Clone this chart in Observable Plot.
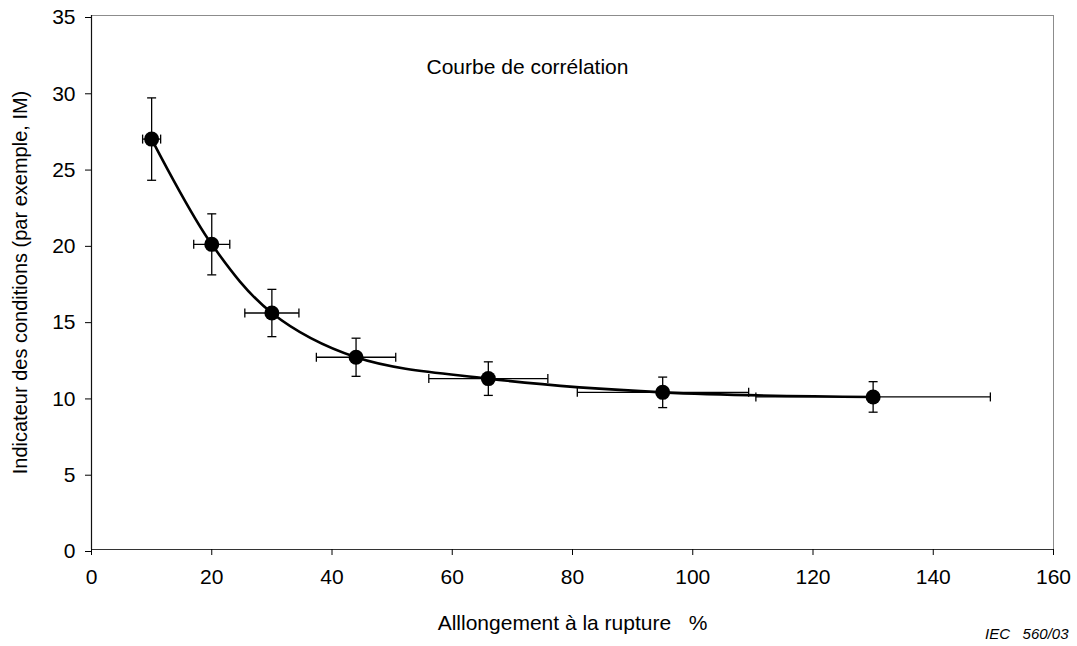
<!DOCTYPE html>
<html>
<head>
<meta charset="utf-8">
<script src="https://cdn.jsdelivr.net/npm/d3@7"></script>
<script src="https://cdn.jsdelivr.net/npm/@observablehq/plot@0.6"></script>
<style>
  html, body { margin: 0; padding: 0; background: white; }
</style>
</head>
<body>
<div id="chart"></div>
<script>
// Data
const elongation = [10, 20, 30, 44, 66, 95, 130];          // Allongement à la rupture (%)
const indicator  = [26.9, 20.0, 15.5, 12.6, 11.2, 10.3, 10.0]; // Indicateur (IM)
const elongLow   = [8.5, 17.0, 25.5, 37.4, 56.1, 80.8, 110.5];
const elongHigh  = [11.5, 23.0, 34.5, 50.6, 75.9, 109.3, 149.5];
const indLow     = [24.2, 18.0, 13.95, 11.35, 10.1, 9.3, 9.0];
const indHigh    = [29.6, 22.0, 17.05, 13.85, 12.3, 11.3, 11.0];
const xTicks = [0, 20, 40, 60, 80, 100, 120, 140, 160];
const yTicks = [0, 5, 10, 15, 20, 25, 30, 35];

const xLabel = "Alllongement à la rupture\u00a0\u00a0\u00a0%";
const yLabel = "Indicateur des conditions (par exemple, IM)";
const annotation = "Courbe de corrélation";
const reference = "IEC\u00a0\u00a0\u00a0560/03";

const points = elongation.map((x, i) => ({
  x, y: indicator[i],
  xl: elongLow[i], xh: elongHigh[i],
  yl: indLow[i], yh: indHigh[i]
}));

const hCap = { draw(ctx) { ctx.moveTo(-4.5, 0); ctx.lineTo(4.5, 0); } };
const vCap = { draw(ctx) { ctx.moveTo(0, -4.5); ctx.lineTo(0, 4.5); } };

const chart = Plot.plot({
  width: 1077,
  height: 646,
  marginLeft: 91,
  marginRight: 24,
  marginTop: 15,
  marginBottom: 97,
  style: { fontFamily: "'Liberation Sans', Arial, sans-serif", fontSize: "21px", background: "white", color: "black" },
  x: { domain: [0, 160] },
  y: { domain: [0, 35] },
  marks: [
    Plot.frame({ stroke: "#8c8c8c", strokeWidth: 1 }),
    Plot.ruleX([0], { stroke: "#111", strokeWidth: 1.2 }),
    Plot.ruleY([0], { stroke: "#333", strokeWidth: 1.2 }),
    Plot.axisX({ ticks: xTicks, tickSize: 6, tickPadding: 14, label: null, fontSize: 21 }),
    Plot.axisY({ ticks: yTicks, tickSize: 6, tickPadding: 10, label: null, fontSize: 21, dy: 2 }),
    // error bars
    Plot.link(points, { x1: "xl", x2: "xh", y1: "y", y2: "y", stroke: "black", strokeWidth: 1.3 }),
    Plot.link(points, { x1: "x", x2: "x", y1: "yl", y2: "yh", stroke: "black", strokeWidth: 1.3 }),
    Plot.dot(points, { x: "x", y: "yl", symbol: hCap, fill: "none", stroke: "black", strokeWidth: 1.3 }),
    Plot.dot(points, { x: "x", y: "yh", symbol: hCap, fill: "none", stroke: "black", strokeWidth: 1.3 }),
    Plot.dot(points, { x: "xl", y: "y", symbol: vCap, fill: "none", stroke: "black", strokeWidth: 1.3 }),
    Plot.dot(points, { x: "xh", y: "y", symbol: vCap, fill: "none", stroke: "black", strokeWidth: 1.3 }),
    // smoothed correlation curve
    Plot.line(points, { x: "x", y: "y", curve: "catmull-rom", stroke: "black", strokeWidth: 2.6 }),
    Plot.dot(points, { x: "x", y: "y", r: 7.5, fill: "black", stroke: "none" }),
    // texts
    Plot.text([annotation], { frameAnchor: "top-left", dx: 335, dy: 52, textAnchor: "start", lineAnchor: "middle", fontSize: 21 }),
    Plot.text([xLabel], { frameAnchor: "bottom", dy: 74, textAnchor: "middle", lineAnchor: "middle", fontSize: 21 }),
    Plot.text([yLabel], { frameAnchor: "left", dx: -71, rotate: -90, textAnchor: "middle", lineAnchor: "middle", fontSize: 20 }),
    Plot.text([reference], { frameAnchor: "bottom-right", dx: 15, dy: 85, textAnchor: "end", lineAnchor: "middle", fontSize: 15, fontStyle: "italic" })
  ]
});

document.getElementById("chart").appendChild(chart);
</script>
</body>
</html>
